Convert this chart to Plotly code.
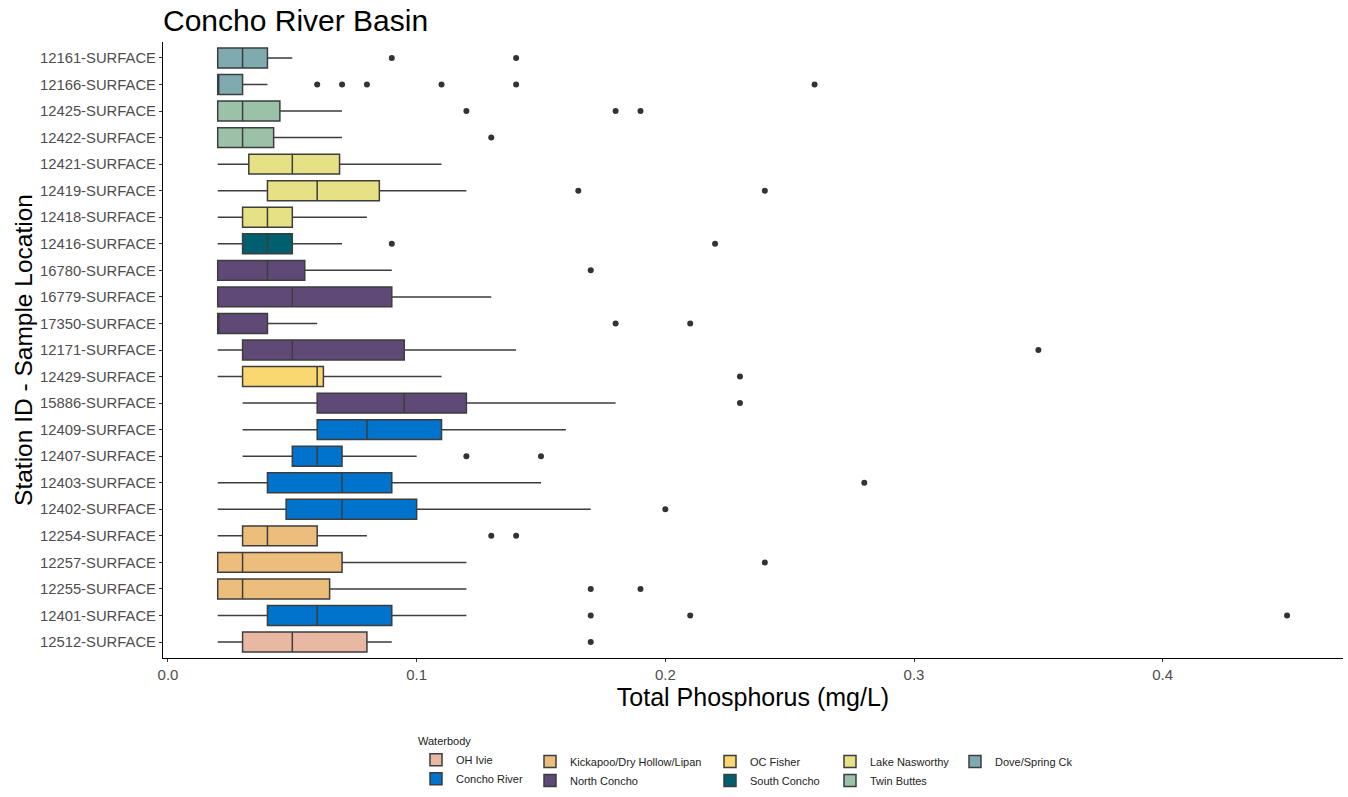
import plotly.graph_objects as go

# Stations, top to bottom as displayed
stations = ["12161-SURFACE", "12166-SURFACE", "12425-SURFACE", "12422-SURFACE",
            "12421-SURFACE", "12419-SURFACE", "12418-SURFACE", "12416-SURFACE",
            "16780-SURFACE", "16779-SURFACE", "17350-SURFACE", "12171-SURFACE",
            "12429-SURFACE", "15886-SURFACE", "12409-SURFACE", "12407-SURFACE",
            "12403-SURFACE", "12402-SURFACE", "12254-SURFACE", "12257-SURFACE",
            "12255-SURFACE", "12401-SURFACE", "12512-SURFACE"]
waterbody = ["Dove/Spring Ck", "Dove/Spring Ck", "Twin Buttes", "Twin Buttes",
             "Lake Nasworthy", "Lake Nasworthy", "Lake Nasworthy", "South Concho",
             "North Concho", "North Concho", "North Concho", "North Concho",
             "OC Fisher", "North Concho", "Concho River", "Concho River",
             "Concho River", "Concho River", "Kickapoo/Dry Hollow/Lipan", "Kickapoo/Dry Hollow/Lipan",
             "Kickapoo/Dry Hollow/Lipan", "Concho River", "OH Ivie"]
lower_fence = [0.02, 0.02, 0.02, 0.02, 0.02, 0.02, 0.02, 0.02, 0.02, 0.02, 0.02, 0.02,
               0.02, 0.03, 0.03, 0.03, 0.02, 0.02, 0.02, 0.02, 0.02, 0.02, 0.02]
q1 = [0.02, 0.02, 0.02, 0.02, 0.0325, 0.04, 0.03, 0.03, 0.02, 0.02, 0.02, 0.03,
      0.03, 0.06, 0.06, 0.05, 0.04, 0.0475, 0.03, 0.02, 0.02, 0.04, 0.03]
median = [0.03, 0.02, 0.03, 0.03, 0.05, 0.06, 0.04, 0.04, 0.04, 0.05, 0.02, 0.05,
          0.06, 0.095, 0.08, 0.06, 0.07, 0.07, 0.04, 0.03, 0.03, 0.06, 0.05]
q3 = [0.04, 0.03, 0.045, 0.0425, 0.069, 0.085, 0.05, 0.05, 0.055, 0.09, 0.04, 0.095,
      0.0625, 0.12, 0.11, 0.07, 0.09, 0.10, 0.06, 0.07, 0.065, 0.09, 0.08]
upper_fence = [0.05, 0.04, 0.07, 0.07, 0.11, 0.12, 0.08, 0.07, 0.09, 0.13, 0.06, 0.14,
               0.11, 0.18, 0.16, 0.10, 0.15, 0.17, 0.08, 0.12, 0.12, 0.12, 0.09]
outliers = [[0.09, 0.14], [0.06, 0.07, 0.08, 0.11, 0.14, 0.26], [0.12, 0.18, 0.19], [0.13],
            [], [0.165, 0.24], [], [0.09, 0.22],
            [0.17], [], [0.18, 0.21], [0.35],
            [0.23], [0.23], [], [0.12, 0.15],
            [0.28], [0.20], [0.13, 0.14], [0.24],
            [0.17, 0.19], [0.17, 0.21, 0.45], [0.17]]

# Legend layout: columns of the ggplot legend
legend_columns = [["OH Ivie", "Concho River"],
                  ["Kickapoo/Dry Hollow/Lipan", "North Concho"],
                  ["OC Fisher", "South Concho"],
                  ["Lake Nasworthy", "Twin Buttes"],
                  ["Dove/Spring Ck"]]
colors = {"OH Ivie": "#E9B8A3", "Concho River": "#0073CC",
          "Kickapoo/Dry Hollow/Lipan": "#EDBD7B", "North Concho": "#5E4977",
          "OC Fisher": "#F9D771", "South Concho": "#005F6F",
          "Lake Nasworthy": "#E6E184", "Twin Buttes": "#9BC2A8",
          "Dove/Spring Ck": "#7FAAB0"}

FONT = "Liberation Sans, Arial, sans-serif"
fig = go.Figure()

legend_ids = ["legend", "legend2", "legend3", "legend4", "legend5"]
for ci, col in enumerate(legend_columns):
    for wb in col:
        idx = [i for i, w in enumerate(waterbody) if w == wb]
        fig.add_trace(go.Box(
            name=wb, orientation="h",
            y=[stations[i] for i in idx],
            q1=[q1[i] for i in idx], median=[median[i] for i in idx],
            q3=[q3[i] for i in idx], lowerfence=[lower_fence[i] for i in idx],
            upperfence=[upper_fence[i] for i in idx],
            fillcolor=colors[wb], line=dict(color="#3d3d3d", width=1.5),
            width=0.75, whiskerwidth=0, boxpoints=False, hoverinfo="skip",
            legend=legend_ids[ci], showlegend=True,
        ))

ox, oy = [], []
for s, pts in zip(stations, outliers):
    for p in pts:
        ox.append(p)
        oy.append(s)
fig.add_trace(go.Scatter(x=ox, y=oy, mode="markers", showlegend=False,
                         marker=dict(color="#333333", size=6), hoverinfo="skip"))

leg_x_text = [456, 570, 750, 870, 995]
legend_common = dict(orientation="v", xanchor="left", yanchor="top",
                     font=dict(family=FONT, size=11, color="#222222"),
                     bgcolor="rgba(0,0,0,0)", tracegroupgap=0, itemwidth=30)
layout_legends = {}
for ci, lid in enumerate(legend_ids):
    xpaper = (leg_x_text[ci] - 40 - 163) / 1180
    d = dict(legend_common, x=xpaper)
    if ci == 0:
        d["y"] = (658 - 731) / 616
        d["title"] = dict(text="Waterbody ", font=dict(family=FONT, size=11, color="#222222"))
    else:
        d["y"] = (658 - 747) / 616
    layout_legends[lid] = d

fig.update_layout(
    width=1348, height=797,
    margin=dict(l=163, r=5, t=42, b=139, autoexpand=False),
    paper_bgcolor="white", plot_bgcolor="white",
    boxmode="overlay",
    title=dict(text="Concho River Basin", x=0, xref="paper", xanchor="left",
               y=1 - 20 / 797, yref="container", yanchor="middle",
               font=dict(family=FONT, size=30, color="#000000")),
    xaxis=dict(range=[-0.002, 0.4725], tickvals=[0.0, 0.1, 0.2, 0.3, 0.4],
               ticktext=["0.0", "0.1", "0.2", "0.3", "0.4"], automargin=False,
               showgrid=False, zeroline=False, showline=True, linecolor="#000000",
               linewidth=1.2, ticks="outside", ticklen=3, tickcolor="#333333",
               tickfont=dict(family=FONT, size=15, color="#4d4d4d"),
               title=dict(text="Total Phosphorus (mg/L)", standoff=6,
                          font=dict(family=FONT, size=25, color="#000000"))),
    yaxis=dict(type="category", categoryorder="array", automargin=False,
               categoryarray=stations[::-1], range=[-0.6, 22.6],
               showgrid=False, zeroline=False, showline=True, linecolor="#000000",
               linewidth=1.2, ticks="outside", ticklen=3, tickcolor="#333333",
               tickfont=dict(family=FONT, size=14.8, color="#4d4d4d"),
               title=dict(text="Station ID - Sample Location", standoff=0,
                          font=dict(family=FONT, size=24.5, color="#000000"))),
    **layout_legends,
)

fig.write_html("out.html", config={"displayModeBar": False},
               post_script="document.body.style.margin='0px';")
